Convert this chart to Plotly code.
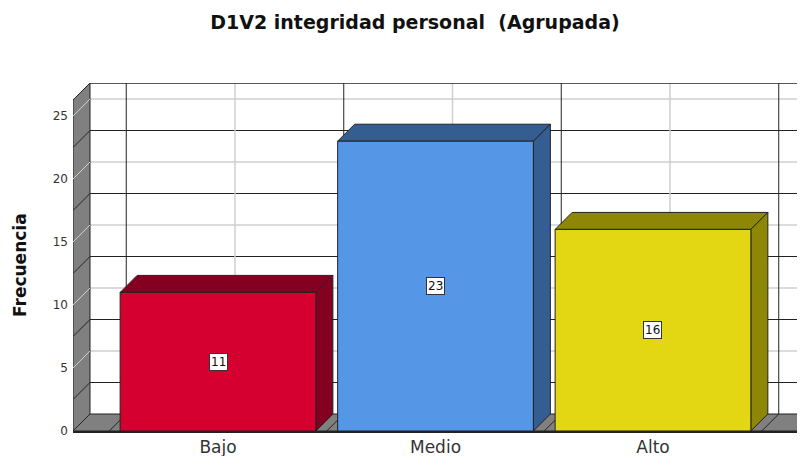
import plotly.graph_objects as go

categories = ["Bajo", "Medio", "Alto"]
values = [11, 23, 16]
front_colors = ["#D50030", "#5596E6", "#E2D712"]
dark_colors = ["#850020", "#345E92", "#8E8705"]
tick_vals = [0, 5, 10, 15, 20, 25]
title = "D1V2 integridad personal  (Agrupada)"
y_title = "Frecuencia"

# page has an 8px body margin; figure is sized to fill the rest of the 805x456 window
OFF = 8
W, H = 805 - OFF, 456 - OFF
ML, MR, MT, MB = 73 - OFF, 0, 83 - OFF, 25
pw, ph = W - ML - MR, H - MT - MB
xr = [-0.6667, 2.6989]
yr = [0, 27.62]
DEPTH = 17
dx = DEPTH * (xr[1] - xr[0]) / pw
dy = DEPTH * (yr[1] - yr[0]) / ph
bw = 0.9
x0, x1 = xr
ytop = yr[1]

shapes = []
def path(pts, fill=None, line="#222", lw=1):
    d = "M " + " L ".join(f"{a},{b}" for a, b in pts) + (" Z" if fill else "")
    shapes.append(dict(type="path", path=d, xref="x", yref="y", layer="below",
                       fillcolor=fill if fill else "rgba(0,0,0,0)",
                       line=dict(color=line, width=lw)))

# back wall grid lines
for t in tick_vals[1:]:
    path([(x0 + dx, t + dy), (x1 + 1, t + dy)], line="#cfcfcf", lw=1.5)
for t in [2.5, 7.5, 12.5, 17.5, 22.5]:
    path([(x0 + dx, t + dy), (x1 + 1, t + dy)], line="#222", lw=1)
for i in range(len(categories)):
    path([(i + dx, dy), (i + dx, ytop)], line="#cfcfcf", lw=1.5)
for i in range(len(categories) + 1):
    path([(i - 0.5 + dx, dy), (i - 0.5 + dx, ytop)], line="#222", lw=1)
# top edge
path([(x0 + dx, ytop), (x1 + 1, ytop)], line="#222", lw=1.5)
# left wall
path([(x0, 0), (x0, ytop - dy), (x0 + dx, ytop), (x0 + dx, dy)], fill="#808080", line="#222")
for t in tick_vals[1:]:
    path([(x0, t), (x0 + dx, t + dy)], line="#cfcfcf", lw=1)
for t in [2.5, 7.5, 12.5, 17.5, 22.5]:
    path([(x0, t), (x0 + dx, t + dy)], line="#222", lw=1)
# floor
path([(x0, 0), (x0 + dx, dy), (x1 + 1, dy), (x1 + 1, 0)], fill="#808080", line="#222")
for i in range(len(categories) + 1):
    path([(i - 0.5, 0), (i - 0.5 + dx, dy)], line="#222", lw=1)
# bar 3D faces
for i, v in enumerate(values):
    l, r = i - bw / 2, i + bw / 2
    path([(l, v), (r, v), (r + dx, v + dy), (l + dx, v + dy)], fill=dark_colors[i], line="#222")
    path([(r, 0), (r, v), (r + dx, v + dy), (r + dx, dy)], fill=dark_colors[i], line="#222")

fig = go.Figure()
fig.add_trace(go.Bar(
    x=list(range(len(categories))), y=values, width=bw,
    marker=dict(color=front_colors, line=dict(color="#222", width=1)),
    hoverinfo="skip", showlegend=False,
))

annotations = []
for i, v in enumerate(values):
    annotations.append(dict(x=i, y=v / 2, xref="x", yref="y", text=str(v), showarrow=False,
                            font=dict(family="DejaVu Sans", size=12, color="#111"),
                            bgcolor="white", bordercolor="#333", borderwidth=1, borderpad=1))
annotations.append(dict(x=(20 - OFF - ML) / pw, y=1 - (265 - OFF - MT) / ph,
                        xref="paper", yref="paper", text=y_title,
                        showarrow=False, textangle=-90, xanchor="center", yanchor="middle",
                        font=dict(family="DejaVu Sans", size=17, color="#111", weight="bold")))

fig.update_layout(
    width=W, height=H,
    margin=dict(l=ML, r=MR, t=MT, b=MB, autoexpand=False),
    paper_bgcolor="white", plot_bgcolor="white",
    title=dict(text="<b>" + title + "</b>", x=(415 - OFF) / W, xanchor="center",
               y=1 - (22 - OFF) / H, yanchor="middle",
               font=dict(family="DejaVu Sans", size=19, color="#111")),
    xaxis=dict(range=xr, tickvals=list(range(len(categories))), ticktext=categories,
               showgrid=False, zeroline=False, showline=True, linecolor="#222", linewidth=1.5,
               ticks="", automargin=False, ticklabelstandoff=0,
               tickfont=dict(family="DejaVu Sans", size=17, color="#333")),
    yaxis=dict(range=yr, tickvals=tick_vals, showgrid=False, zeroline=False, showline=False,
               ticks="", automargin=False, ticklabelstandoff=4,
               tickfont=dict(family="DejaVu Sans", size=12, color="#333")),
    shapes=shapes,
    annotations=annotations,
    bargap=0.1,
)
fig.write_html("out.html")
